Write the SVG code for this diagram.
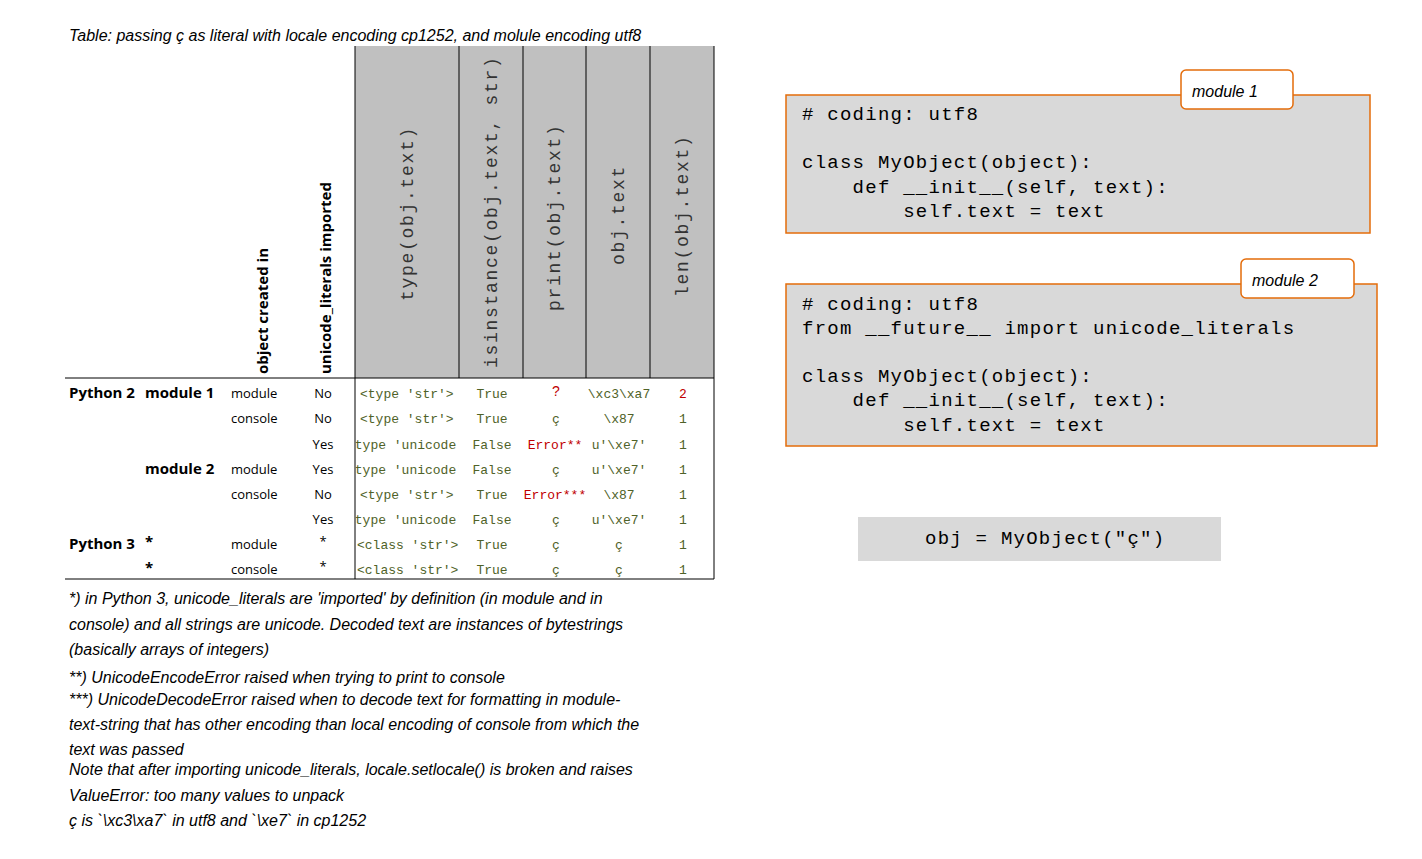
<svg xmlns="http://www.w3.org/2000/svg" width="1422" height="859" viewBox="0 0 1422 859">
<style>
.n{font-family:"Liberation Sans",Arial,sans-serif;font-style:italic;font-size:16px;fill:#000}
.b{font-family:"Open Sans","Liberation Sans",sans-serif;font-weight:bold;font-size:15px;fill:#000}
.s{font-family:"Open Sans","Liberation Sans",sans-serif;font-size:13px;fill:#000}
.d{font-family:"Liberation Mono",monospace;font-size:13px;fill:#4f6228}
.r{fill:#c00000}
.h{font-family:"Liberation Mono",monospace;font-size:18px;letter-spacing:1.7px;fill:#333}
.c{font-family:"Liberation Mono",monospace;font-size:19px;letter-spacing:1.25px;fill:#000;white-space:pre}
.box{fill:#d9d9d9;stroke:#e46c0a;stroke-width:1.5}
.tab{fill:#fff;stroke:#e46c0a;stroke-width:1.5}
.ln{stroke:#000;stroke-width:1}
</style>
<defs><clipPath id="c1"><rect x="355" y="378" width="104" height="201"/></clipPath></defs>
<rect width="1422" height="859" fill="#fff"/>
<g id="table">
<text class="n" x="69" y="41">Table: passing ç as literal with locale encoding cp1252, and molule encoding utf8</text>
<rect x="355" y="46" width="359" height="332" fill="#c0c0c0"/>
<g class="ln">
<line x1="355" y1="46" x2="355" y2="579"/><line x1="459" y1="46" x2="459" y2="378"/><line x1="523" y1="46" x2="523" y2="378"/>
<line x1="586" y1="46" x2="586" y2="378"/><line x1="650" y1="46" x2="650" y2="378"/><line x1="714" y1="46" x2="714" y2="579"/>
<line x1="65" y1="378" x2="714" y2="378"/><line x1="65" y1="579" x2="714" y2="579"/>
</g>
<text class="b" transform="translate(268,374) rotate(-90)">object created in</text>
<text class="b" transform="translate(331,374) rotate(-90)">unicode_literals imported</text>
<text class="h" transform="translate(413,301) rotate(-90)">type(obj.text)</text>
<text class="h" transform="translate(497,368) rotate(-90)">isinstance(obj.text, str)</text>
<text class="h" transform="translate(560,311) rotate(-90)">print(obj.text)</text>
<text class="h" transform="translate(624,265) rotate(-90)">obj.text</text>
<text class="h" transform="translate(688,297) rotate(-90)">len(obj.text)</text>
<g class="b" font-size="16"><text x="69" y="398">Python 2</text><text x="145" y="398">module 1</text><text x="145" y="474">module 2</text><text x="69" y="549">Python 3</text><text x="145" y="547">*</text><text x="145" y="573">*</text></g>
<g class="s"><text x="231" y="398">module</text><text x="231" y="423">console</text><text x="231" y="474">module</text><text x="231" y="499">console</text><text x="231" y="549">module</text><text x="231" y="574">console</text></g>
<g class="s" text-anchor="middle"><text x="323" y="398">No</text><text x="323" y="423">No</text><text x="323" y="449">Yes</text><text x="323" y="474">Yes</text><text x="323" y="499">No</text><text x="323" y="524">Yes</text><text x="323" y="546">*</text><text x="323" y="571">*</text></g>
<g class="d" clip-path="url(#c1)"><text x="360" y="398">&lt;type 'str'&gt;</text><text x="360" y="423">&lt;type 'str'&gt;</text><text x="347" y="449">&lt;type 'unicode'&gt;</text><text x="347" y="474">&lt;type 'unicode'&gt;</text><text x="360" y="499">&lt;type 'str'&gt;</text><text x="347" y="524">&lt;type 'unicode'&gt;</text><text x="357" y="549">&lt;class 'str'&gt;</text><text x="357" y="574">&lt;class 'str'&gt;</text></g>
<g class="d" text-anchor="middle">
<text x="492" y="398">True</text><text x="492" y="423">True</text><text x="492" y="449">False</text><text x="492" y="474">False</text><text x="492" y="499">True</text><text x="492" y="524">False</text><text x="492" y="549">True</text><text x="492" y="574">True</text>
<text x="556" y="396" class="r" font-family="Liberation Sans" font-size="14">?</text><text x="556" y="423">ç</text><text x="555" y="449" class="r">Error**</text><text x="556" y="474">ç</text><text x="555" y="499" class="r">Error***</text><text x="556" y="524">ç</text><text x="556" y="549">ç</text><text x="556" y="574">ç</text>
<text x="619" y="398">\xc3\xa7</text><text x="619" y="423">\x87</text><text x="619" y="449">u'\xe7'</text><text x="619" y="474">u'\xe7'</text><text x="619" y="499">\x87</text><text x="619" y="524">u'\xe7'</text><text x="619" y="549">ç</text><text x="619" y="574">ç</text>
<text x="683" y="398" class="r">2</text><text x="683" y="423">1</text><text x="683" y="449">1</text><text x="683" y="474">1</text><text x="683" y="499">1</text><text x="683" y="524">1</text><text x="683" y="549">1</text><text x="683" y="574">1</text>
</g>
</g>
<g id="notes" class="n">
<text x="69" y="604">*) in Python 3, unicode_literals are 'imported' by definition (in module and in</text>
<text x="69" y="630">console) and all strings are unicode. Decoded text are instances of  bytestrings</text>
<text x="69" y="655">(basically arrays of integers)</text>
<text x="69" y="683">**) UnicodeEncodeError raised when trying to print to console</text>
<text x="69" y="705">***) UnicodeDecodeError raised when to decode text for formatting in module-</text>
<text x="69" y="730">text-string that has other encoding than local encoding of console from which the</text>
<text x="69" y="755">text was passed</text>
<text x="69" y="775">Note that after importing unicode_literals, locale.setlocale() is broken and raises</text>
<text x="69" y="801">ValueError: too many values to unpack</text>
<text x="69" y="826">ç is `\xc3\xa7` in utf8 and `\xe7` in cp1252</text>
</g>
<g id="module1">
<rect class="box" x="786" y="95" width="584" height="138"/>
<rect class="tab" x="1181" y="70" width="112" height="39" rx="5"/>
<text class="n" x="1192" y="97" font-size="18">module 1</text>
<text class="c" x="802" y="120"># coding: utf8</text>
<text class="c" x="802" y="168">class MyObject(object):</text>
<text class="c" x="802" y="193">    def __init__(self, text):</text>
<text class="c" x="802" y="217">        self.text = text</text>
</g>
<g id="module2">
<rect class="box" x="786" y="284" width="591" height="162"/>
<rect class="tab" x="1241" y="259" width="113" height="39" rx="5"/>
<text class="n" x="1252" y="286" font-size="18">module 2</text>
<text class="c" x="802" y="310"># coding: utf8</text>
<text class="c" x="802" y="334">from __future__ import unicode_literals</text>
<text class="c" x="802" y="382">class MyObject(object):</text>
<text class="c" x="802" y="406">    def __init__(self, text):</text>
<text class="c" x="802" y="431">        self.text = text</text>
</g>
<g id="call">
<rect x="858" y="517" width="363" height="44" fill="#d9d9d9"/>
<text class="c" x="925" y="544">obj = MyObject("ç")</text>
</g>
<g id="connectors"/>
</svg>
